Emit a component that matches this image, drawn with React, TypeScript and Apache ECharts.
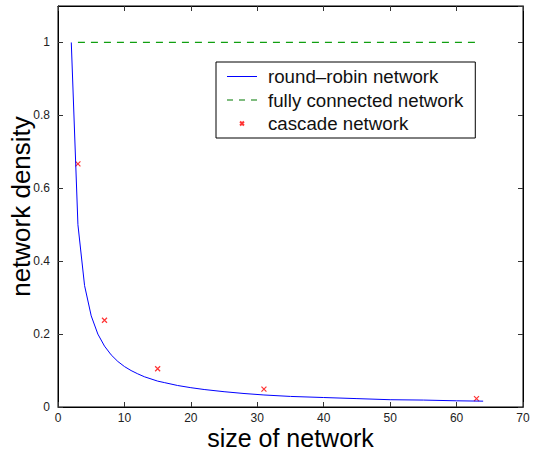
import React, { useEffect, useRef } from "react";
import * as echarts from "echarts";

// round-robin network density, read at network sizes
const rrSizes = [2, 3, 4, 5, 6, 7, 8, 9, 10, 11, 12, 13, 14, 15, 16, 18, 20, 22, 25, 28, 31, 35, 40, 45, 50, 55, 60, 64];
const rrDensity = [1, 0.5, 0.333, 0.25, 0.2, 0.167, 0.143, 0.125, 0.111, 0.1, 0.091, 0.083, 0.077, 0.071, 0.067, 0.059, 0.053, 0.048, 0.042, 0.037, 0.033, 0.029, 0.026, 0.023, 0.02, 0.019, 0.017, 0.016];

// fully connected network
const fcSizes = [3, 63];
const fcDensity = [1, 1];

// cascade network
const cascadeSizes = [3, 7, 15, 31, 63];
const cascadeDensity = [0.667, 0.238, 0.105, 0.049, 0.023];

const xTicks = [0, 10, 20, 30, 40, 50, 60, 70];
const yTicks = [0, 0.2, 0.4, 0.6, 0.8, 1];

const FONT = "'Liberation Sans', Arial, Helvetica, sans-serif";
const CROSS = "path://M0,0L10,10M10,0L0,10";
const LEGEND_CROSS = "path://M-13,-13M23,23M0,0L10,10M10,0L0,10";
const LEGEND_SOLID = "path://M0,0H30V1H0Z";
const LEGEND_DASH = "path://M0,0H6V1H0Z M12,0H18V1H12Z M24,0H30V1H24Z";

export default function App() {
  const ref = useRef<HTMLDivElement>(null);
  useEffect(() => {
    if (!ref.current) return;
    const chart = echarts.init(ref.current, undefined, { renderer: "svg" });
    const pairs = (xs: number[], ys: number[]) => xs.map((x, i) => [x, ys[i]]);
    const mkAxis = (extra: any) => ({
      type: "value",
      axisLine: { show: true, onZero: false, lineStyle: { color: "#000", width: 1 } },
      axisTick: { show: true, inside: true, length: 5, lineStyle: { color: "#333", width: 1 } },
      splitLine: { show: false },
      ...extra,
    });
    const xMin = xTicks[0], xMax = xTicks[xTicks.length - 1];
    const yMin = yTicks[0], yMax = 1.1;
    chart.setOption({
      animation: false,
      backgroundColor: "#fff",
      textStyle: { fontFamily: FONT },
      grid: {
        left: 58,
        right: 17,
        top: 6,
        bottom: 49,
        containLabel: false,
        outerBoundsMode: "none",
        show: true,
        borderColor: "#000",
        borderWidth: 1,
        backgroundColor: "transparent",
      },
      xAxis: [
        mkAxis({
          position: "bottom",
          min: xMin,
          max: xMax,
          interval: 10,
          name: "size of network",
          nameLocation: "middle",
          nameGap: 18,
          nameMoveOverlap: false,
          nameTextStyle: { fontSize: 25, color: "#000", fontFamily: FONT, verticalAlign: "top" },
          axisLabel: { show: true, margin: 5, fontSize: 12, color: "#222", fontFamily: FONT },
        }),
        mkAxis({
          position: "top",
          min: xMin,
          max: xMax,
          interval: 10,
          axisLabel: { show: false },
        }),
      ],
      yAxis: [
        mkAxis({
          position: "left",
          min: yMin,
          max: yMax,
          interval: 0.2,
          name: "network density",
          nameLocation: "middle",
          nameGap: 24,
          nameRotate: 90,
          nameMoveOverlap: false,
          nameTextStyle: { fontSize: 26, color: "#000", fontFamily: FONT, verticalAlign: "bottom" },
          axisLabel: {
            show: true,
            margin: 8,
            fontSize: 12,
            color: "#222",
            fontFamily: FONT,
            showMaxLabel: false,
            formatter: (v: number) => String(parseFloat(v.toFixed(1))),
          },
        }),
        mkAxis({
          position: "right",
          min: yMin,
          max: yMax,
          interval: 0.2,
          axisLabel: { show: false },
        }),
      ],
      legend: {
        left: 216,
        top: 62,
        orient: "vertical",
        backgroundColor: "#fff",
        borderColor: "#000",
        borderWidth: 1,
        borderRadius: 0,
        padding: [5, 12, 5, 11],
        itemWidth: 30,
        itemHeight: 14,
        itemGap: 4.5,
        textStyle: { fontSize: 18.7, color: "#111", fontFamily: FONT, lineHeight: 18.5, padding: [0, 0, 0, 6] },
        data: [
          { name: "round\u2013robin network", icon: LEGEND_SOLID },
          { name: "fully connected network", icon: LEGEND_DASH, itemStyle: { color: "#007a00" } },
          { name: "cascade network", icon: LEGEND_CROSS },
        ],
      },
      series: [
        {
          name: "round\u2013robin network",
          type: "line",
          data: pairs(rrSizes, rrDensity),
          showSymbol: false,
          symbol: "none",
          lineStyle: { color: "#0000ff", width: 1 },
          itemStyle: { color: "#0000ff" },
        },
        {
          name: "fully connected network",
          type: "line",
          data: pairs(fcSizes, fcDensity),
          showSymbol: false,
          symbol: "none",
          lineStyle: { color: "#109f10", width: 1.2, type: [7, 6] },
          itemStyle: { color: "#109f10" },
        },
        {
          name: "cascade network",
          type: "scatter",
          data: pairs(cascadeSizes, cascadeDensity),
          symbol: CROSS,
          symbolSize: 5,
          itemStyle: { color: "#ff0000", borderColor: "#ff0000", borderWidth: 1.2 },
        },
      ],
    });
    return () => chart.dispose();
  }, []);
  return <div ref={ref} style={{ position: "absolute", left: 0, top: 0, width: 540, height: 456 }} />;
}
